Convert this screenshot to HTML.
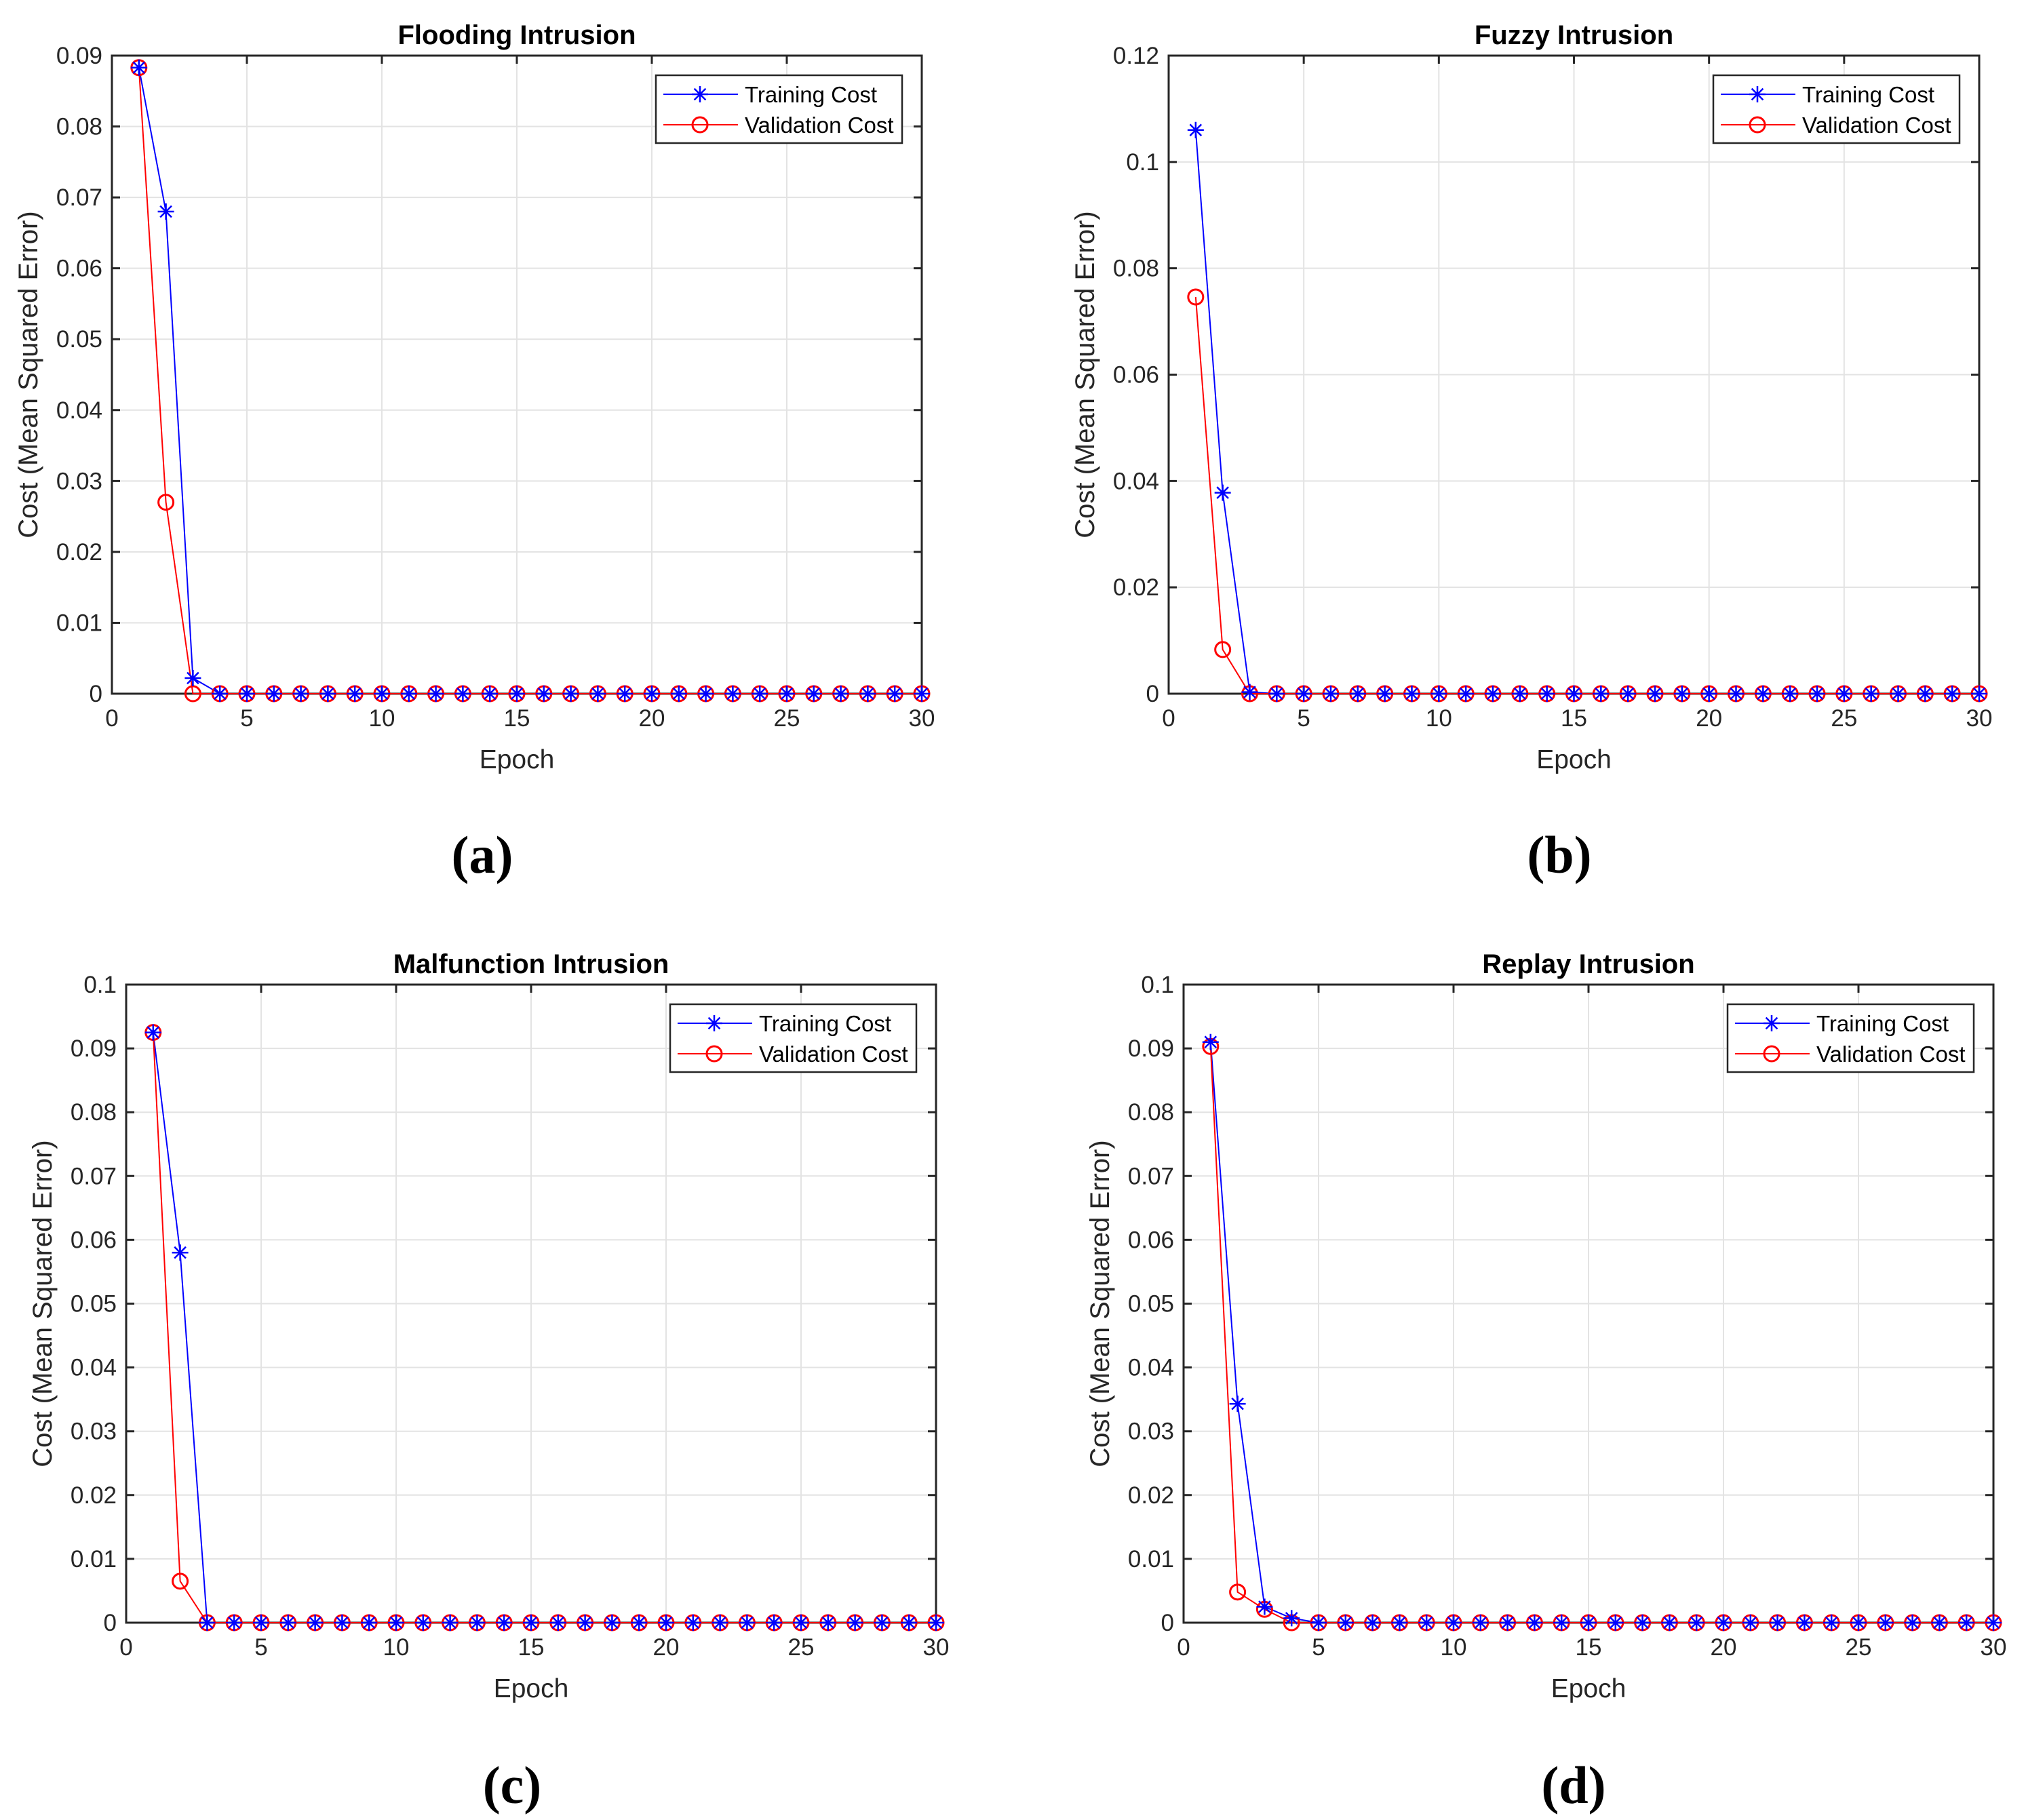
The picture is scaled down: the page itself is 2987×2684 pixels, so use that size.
<!DOCTYPE html>
<html><head><meta charset="utf-8"><style>
html,body{margin:0;padding:0;background:#fff;}
svg{display:block;}
</style></head><body>
<svg id="fig" width="2987" height="2684" viewBox="0 0 2987 2684" xmlns="http://www.w3.org/2000/svg" font-family="Liberation Sans, sans-serif"></svg>
<script>
const epochs = Array.from({length:30},(_,i)=>i+1);
const titles = ["Flooding Intrusion","Fuzzy Intrusion","Malfunction Intrusion","Replay Intrusion"];
const panelLabels = ["(a)","(b)","(c)","(d)"];
const yMaxes = [0.09,0.12,0.1,0.1];
const yTickSteps = [0.01,0.02,0.01,0.01];
const yTickLabelsA = ["0","0.01","0.02","0.03","0.04","0.05","0.06","0.07","0.08","0.09"];
const yTickLabelsB = ["0","0.02","0.04","0.06","0.08","0.1","0.12"];
const yTickLabelsC = ["0","0.01","0.02","0.03","0.04","0.05","0.06","0.07","0.08","0.09","0.1"];
const yTickLabelsD = ["0","0.01","0.02","0.03","0.04","0.05","0.06","0.07","0.08","0.09","0.1"];
const xTickLabels = ["0","5","10","15","20","25","30"];
const zeros26 = new Array(26).fill(0);
const trainA = [0.0883,0.068,0.0022,0,0,...zeros26.slice(0,25)];
const valA   = [0.0883,0.027,0,0,0,...zeros26.slice(0,25)];
const trainB = [0.106,0.0378,0.0003,0,0,...zeros26.slice(0,25)];
const valB   = [0.0746,0.0083,0,0,0,...zeros26.slice(0,25)];
const trainC = [0.0925,0.058,0,0,0,...zeros26.slice(0,25)];
const valC   = [0.0925,0.0065,0,0,0,...zeros26.slice(0,25)];
const trainD = [0.091,0.0343,0.0025,0.0007,0,...zeros26.slice(0,25)];
const valD   = [0.0903,0.0048,0.0021,0,0,...zeros26.slice(0,25)];

const trains=[trainA,trainB,trainC,trainD], vals=[valA,valB,valC,valD];
const yLabelSets=[yTickLabelsA,yTickLabelsB,yTickLabelsC,yTickLabelsD];
const boxes=[{l:165,r:1359,t:82,b:1023},{l:1723,r:2918,t:82,b:1023},{l:186,r:1380,t:1452,b:2393},{l:1745,r:2939,t:1452,b:2393}];
const labelPos=[[711,1261],[2299,1261],[755,2633],[2320,2633]];
const NS="http://www.w3.org/2000/svg";
const svg=document.getElementById('fig');
function el(tag,attrs,parent,txt){const e=document.createElementNS(NS,tag);for(const k in attrs)e.setAttribute(k,attrs[k]);if(txt!==undefined)e.textContent=txt;(parent||svg).appendChild(e);return e;}
function star(g,x,y,c){const s=12;const p=el('path',{d:`M${x-s},${y}H${x+s}M${x},${y-s}V${y+s}M${x-s*0.7},${y-s*0.7}L${x+s*0.7},${y+s*0.7}M${x-s*0.7},${y+s*0.7}L${x+s*0.7},${y-s*0.7}`,stroke:c,'stroke-width':2.5,fill:'none'},g);return p;}

boxes.forEach((bx,i)=>{
  const g=el('g',{});
  
  
  const xs=v=>bx.l+(v/30)*(bx.r-bx.l);
  const ys=v=>bx.b-(v/yMaxes[i])*(bx.b-bx.t);
  const labs=yLabelSets[i];
  labs.forEach((lab,k)=>{const v=k*yTickSteps[i];const y=ys(v);
    if(k>0&&k<labs.length-1){const gl=el('line',{x1:bx.l,x2:bx.r,y1:y,y2:y,stroke:'#e3e3e3','stroke-width':2},g);}
  });
  xTickLabels.forEach((lab,k)=>{const x=xs(+lab);
    if(k>0&&k<xTickLabels.length-1){const gl=el('line',{x1:x,x2:x,y1:bx.t,y2:bx.b,stroke:'#e3e3e3','stroke-width':2},g);}
  });
  labs.forEach((lab,k)=>{const y=ys(k*yTickSteps[i]);
    el('path',{d:`M${bx.l},${y}h12M${bx.r},${y}h-12`,stroke:'#262626','stroke-width':3},g);
    const t=el('text',{x:bx.l-14,y:y+12,'text-anchor':'end','font-size':35,fill:'#262626'},g,lab);
    
  });
  xTickLabels.forEach(lab=>{const x=xs(+lab);
    el('path',{d:`M${x},${bx.b}v-12M${x},${bx.t}v12`,stroke:'#262626','stroke-width':3},g);
    const t=el('text',{x:x,y:bx.b+48,'text-anchor':'middle','font-size':35,fill:'#262626'},g,lab);
    
  });
  const frame=el('rect',{x:bx.l,y:bx.t,width:bx.r-bx.l,height:bx.b-bx.t,fill:'none',stroke:'#262626','stroke-width':3},g);
  
  const tl=el('polyline',{points:epochs.map((e,j)=>xs(e)+','+ys(trains[i][j])).join(' '),fill:'none',stroke:'#0000ff','stroke-width':2},g);
  
  const vl=el('polyline',{points:epochs.map((e,j)=>xs(e)+','+ys(vals[i][j])).join(' '),fill:'none',stroke:'#ff0000','stroke-width':2},g);
  
  epochs.forEach((e,j)=>{
    const c=el('circle',{cx:xs(e),cy:ys(vals[i][j]),r:11,fill:'none',stroke:'#ff0000','stroke-width':3},g);
    
    const s=star(g,xs(e),ys(trains[i][j]),'#0000ff');
    
  });
  const ti=el('text',{x:(bx.l+bx.r)/2,y:bx.t-17,'text-anchor':'middle','font-size':40,'font-weight':'bold',fill:'#000'},g,titles[i]);
  
  const xl=el('text',{x:(bx.l+bx.r)/2,y:bx.b+110,'text-anchor':'middle','font-size':39,fill:'#262626'},g,'Epoch');
  
  const cy=(bx.t+bx.b)/2, cx=bx.l-110;
  const yl=el('text',{x:cx,y:cy,'text-anchor':'middle','font-size':40,fill:'#262626',transform:`rotate(-90 ${cx} ${cy})`},g,'Cost (Mean Squared Error)');
  
  const lg=el('g',{},g);
  
  const lx=bx.r-392, ly=bx.t+29;
  el('rect',{x:lx,y:ly,width:363,height:100,fill:'#fff',stroke:'#262626','stroke-width':2.5},lg);
  el('line',{x1:lx+11,x2:lx+121,y1:ly+28,y2:ly+28,stroke:'#0000ff','stroke-width':2},lg);
  star(lg,lx+65,ly+28,'#0000ff');
  const t1=el('text',{x:lx+131,y:ly+40,'font-size':33,fill:'#000'},lg,'Training Cost');
  
  el('line',{x1:lx+11,x2:lx+121,y1:ly+73,y2:ly+73,stroke:'#ff0000','stroke-width':2},lg);
  el('circle',{cx:lx+65,cy:ly+73,r:11,fill:'none',stroke:'#ff0000','stroke-width':3},lg);
  const t2=el('text',{x:lx+131,y:ly+85,'font-size':33,fill:'#000'},lg,'Validation Cost');
  
  const pl=el('text',{x:labelPos[i][0],y:labelPos[i][1]+26,'text-anchor':'middle','font-size':78,'font-weight':'bold','font-family':'Liberation Serif, serif',fill:'#000'},g,panelLabels[i]);
  
});
</script>
</body></html>
